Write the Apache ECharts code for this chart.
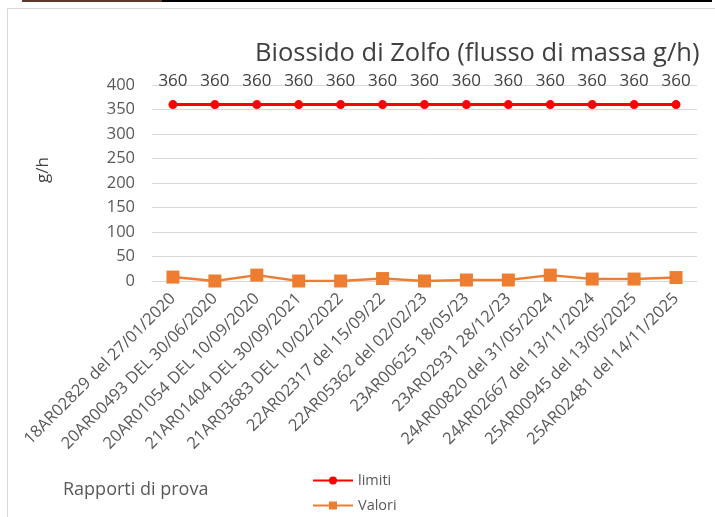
<!DOCTYPE html>
<html><head><meta charset="utf-8">
<script src="https://cdn.jsdelivr.net/npm/echarts@6/dist/echarts.min.js"></script>
<style>html,body{margin:0;padding:0;background:#fff}#c{width:715px;height:517px}</style>
</head><body><div id="c"></div>
<script>
var categories = ["18AR02829 del 27/01/2020","20AR00493 DEL 30/06/2020","20AR01054 DEL 10/09/2020","21AR01404 DEL 30/09/2021","21AR03683 DEL 10/02/2022","22AR02317 del 15/09/22","22AR05362 del 02/02/23","23AR00625 18/05/23","23AR02931 28/12/23","24AR00820 del 31/05/2024","24AR02667 del 13/11/2024","25AR00945 del 13/05/2025","25AR02481 del 14/11/2025"];
var limiti = [360,360,360,360,360,360,360,360,360,360,360,360,360];
var valori = [8,0,12,0,0,5,0,2,2,12,4,4,7];
var yTicks = {min:0, max:400, interval:50};
var F = '"Open Sans", sans-serif';
var chart = echarts.init(document.getElementById('c'));
chart.setOption({
  animation:false,
  backgroundColor:'#fff',
  title:{text:'Biossido di Zolfo (flusso di massa g/h)', left:250, top:36,
    textStyle:{fontFamily:F, fontSize:25.5, fontWeight:'normal', color:'#404040'}},
  grid:{left:152, right:18, top:85, bottom:236},
  legend:{orient:'vertical', left:312, top:473, padding:0, itemWidth:40, itemHeight:10, itemGap:10,
    textStyle:{fontFamily:F, fontSize:14.5, color:'#595959', padding:[0,0,0,0]},
    data:['limiti','Valori']},
  xAxis:{type:'category', data:categories, boundaryGap:true,
    axisLine:{lineStyle:{color:'#d9d9d9', width:1}}, axisTick:{show:false},
    axisLabel:{rotate:45, interval:0, fontFamily:F, fontSize:16.5, color:'#595959', margin:15}},
  yAxis:{type:'value', min:yTicks.min, max:yTicks.max, interval:yTicks.interval,
    axisLine:{show:false}, axisTick:{show:false},
    axisLabel:{fontFamily:F, fontSize:16.5, color:'#595959', margin:17},
    splitLine:{lineStyle:{color:'#d9d9d9', width:1}}},
  series:[
    {name:'limiti', type:'line', data:limiti, symbol:'circle', symbolSize:9,
      lineStyle:{color:'#ff0000', width:3}, itemStyle:{color:'#ff0000'},
      label:{show:true, position:'top', distance:10, fontFamily:F, fontSize:17, color:'#404040'}},
    {name:'Valori', type:'line', data:valori, symbol:'rect', symbolSize:13,
      lineStyle:{color:'#ed7d31', width:2.5}, itemStyle:{color:'#ed7d31'}}
  ],
  graphic:[
    {type:'rect', shape:{x:7.5, y:8.5, width:720, height:520}, style:{fill:'none', stroke:'#d9d9d9', lineWidth:1}, z:-1},
    {type:'rect', shape:{x:22, y:0, width:690, height:2}, style:{fill:'#000'}},
    {type:'rect', shape:{x:22, y:0, width:140, height:2}, style:{fill:'#5a3a2a'}},
    {type:'text', x:43, y:170, rotation:Math.PI/2, style:{text:'g/h', font:'17px "Open Sans", sans-serif', fill:'#404040', align:'center', verticalAlign:'middle'}},
    {type:'text', x:63, y:490, style:{text:'Rapporti di prova', font:'18px "Open Sans", sans-serif', fill:'#595959', verticalAlign:'middle'}}
  ]
});
</script></body></html>
